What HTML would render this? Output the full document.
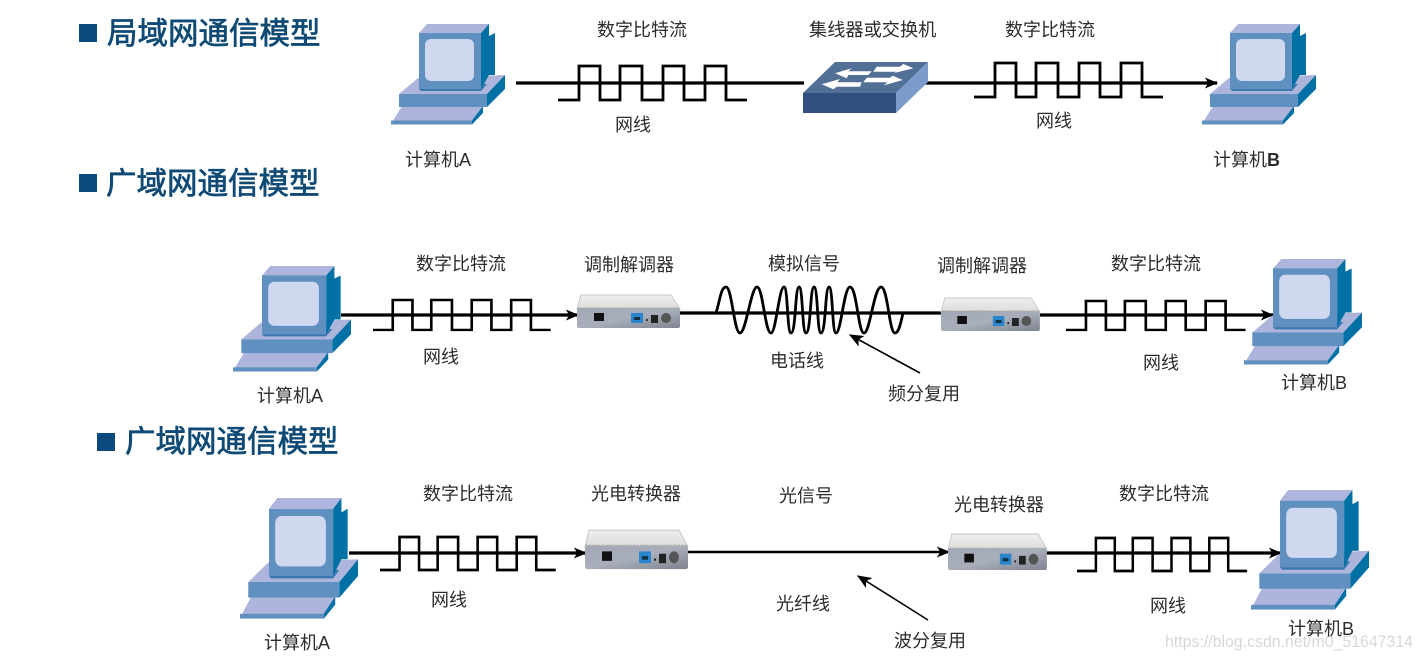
<!DOCTYPE html>
<html><head><meta charset="utf-8"><style>
html,body{margin:0;padding:0;background:#fff}
svg{display:block}
text{font-family:"Liberation Sans","Noto Sans CJK SC",sans-serif;font-size:18px;fill:#2c2c2c}
.t{font-size:30.5px;font-weight:400;fill:#0f4a75;stroke:#0f4a75;stroke-width:.7px}
.w{fill:none;stroke:#000;stroke-width:2.8}
.l{stroke:#000;stroke-width:3.2;fill:none}
.n{stroke:#000;stroke-width:1.6;fill:none}
</style></head><body>
<svg width="1422" height="659" viewBox="0 0 1422 659" xmlns="http://www.w3.org/2000/svg">
<defs>
<g id="pc">
<polygon points="0,100 11,82 92,82 81,100" fill="#adb5dc"/>
<rect x="0" y="96.500" width="81" height="4" fill="#6090c0"/>
<polygon points="81,100.500 92,89 92,82 81,96.500" fill="#0070a5"/>
<polygon points="8,70 27,54 114,51 96,70" fill="#adb5dc"/>
<rect x="8" y="70" width="88" height="13" fill="#6090c0"/>
<polygon points="96,83 114,65 114,51 96,70" fill="#0070a5"/>
<polygon points="28,9 36,0 98,0 90,9" fill="#adb5dc"/>
<polygon points="28,65 30,67 90,67 96,60 28,60" fill="#3c78b0"/>
<rect x="28" y="9" width="62" height="56" fill="#6090c0"/>
<polygon points="90,9 98,0 98,12 104,9 104,51 98,51 90,65" fill="#0070a5"/>
<rect x="34" y="15" width="49" height="42" rx="6" fill="#d0d8f0"/>
</g>
<linearGradient id="mt" x1="0" y1="0" x2="0" y2="1"><stop offset="0" stop-color="#efefed"/><stop offset="1" stop-color="#dcdcda"/></linearGradient>
<linearGradient id="mf" x1="0" y1="0" x2="1" y2="1"><stop offset="0" stop-color="#a2a7b6"/><stop offset=".5" stop-color="#a9aebb"/><stop offset="1" stop-color="#7e838f"/></linearGradient>
<g id="modem">
<polygon points="0,15 4,1 94,1 103,15" fill="url(#mt)" stroke="#c8c8c6" stroke-width="1"/>
<rect x="0" y="14" width="103" height="20" rx="2" fill="url(#mf)"/>
<line x1="1" y1="14" x2="102" y2="14" stroke="#aaa" stroke-width="1.500" stroke-dasharray="1.500 1.500"/>
<rect x="17" y="19" width="10" height="8" fill="#111"/>
<rect x="54" y="19" width="12" height="10" fill="#2a86cc"/>
<rect x="57" y="23" width="6" height="3" fill="#134"/>
<rect x="74" y="21" width="7" height="8" fill="#222"/>
<circle cx="89" cy="24" r="5" fill="#555"/>
<circle cx="70" cy="26" r="1" fill="#111"/>
</g>
<polyline id="sq" points="0,34 21,34 21,0 42,0 42,34 62,34 62,0 84,0 84,34 105,34 105,0 126,0 126,34 147,34 147,0 168,0 168,34 189,34"/>
<marker id="a" viewBox="0 0 12 10" refX="11" refY="5" markerWidth="16" markerHeight="11" markerUnits="userSpaceOnUse" orient="auto"><path d="M0,0 L12,5 L0,10 L3,5 Z" fill="#000"/></marker>
<marker id="b" viewBox="0 0 12 10" refX="11" refY="5" markerWidth="18" markerHeight="12" markerUnits="userSpaceOnUse" orient="auto"><path d="M0,0 L12,5 L0,10 L3,5 Z" fill="#000"/></marker>
</defs>

<!-- titles -->
<rect x="79" y="24" width="18" height="18" fill="#0b4a7c"/>
<text x="107" y="44" class="t">局域网通信模型</text>
<rect x="79" y="174" width="18" height="18" fill="#0b4a7c"/>
<text x="106" y="194" class="t">广域网通信模型</text>
<rect x="97" y="433" width="18" height="18" fill="#0b4a7c"/>
<text x="125" y="452" class="t">广域网通信模型</text>

<!-- row 1 -->
<line x1="516" y1="83" x2="804" y2="83" class="l"/>
<line x1="925" y1="83" x2="1217" y2="83" class="l" marker-end="url(#a)"/>
<use href="#sq" class="w" transform="translate(558,66)"/>
<use href="#sq" class="w" transform="translate(974,63)"/>
<use href="#pc" transform="translate(391,24)"/>
<use href="#pc" transform="translate(1202,24)"/>
<polygon points="803,93 835,62 928,62 896,93" fill="#527095"/>
<rect x="803" y="93" width="93" height="20" fill="#31507f"/>
<polygon points="896,93 928,62 928,82 896,113" fill="#7b9bcb"/>
<polygon points="835,73.300 851.700,68.300 848.300,71.300 871.700,71.300 868.300,75 848.300,75 846.700,78.300" fill="#fff"/>
<polygon points="913.300,68.300 903.300,64 900,66.700 876.700,66.700 873.300,71.700 896.700,71.700 893.300,73.300" fill="#fff"/>
<polygon points="821.700,84.300 840,79 837.300,82.300 861.700,82.300 860,86.700 836.700,86.700 833.300,89.300" fill="#fff"/>
<polygon points="902.700,80 892.700,75.700 890,77.700 866.700,77.700 863.300,82.300 887.300,82.300 884,85.300" fill="#fff"/>
<text x="597" y="36">数字比特流</text>
<text x="809" y="36" style="font-size:18.2px">集线器或交换机</text>
<text x="1005" y="36">数字比特流</text>
<text x="615" y="131">网线</text>
<text x="1036" y="127">网线</text>
<text x="405" y="166">计算机A</text>
<text x="1213" y="166">计算机<tspan font-weight="700">B</tspan></text>

<!-- row 2 -->
<line x1="341" y1="315" x2="578" y2="315" class="l" marker-end="url(#a)"/>
<line x1="680" y1="313" x2="941" y2="313" class="l"/>
<line x1="1040" y1="315" x2="1273" y2="315" class="l" marker-end="url(#a)"/>
<use href="#sq" class="w" transform="translate(373,300) scale(.94,.88)"/>
<use href="#sq" class="w" transform="translate(1066,301) scale(.95,.85)"/>
<use href="#pc" transform="translate(233,266) scale(1.035,1.05)"/>
<use href="#pc" transform="translate(1244,259) scale(1.035,1.05)"/>
<use href="#modem" transform="translate(577,294)"/>
<use href="#modem" transform="translate(941,297) scale(.96,1)"/>
<path class="w" d="M716,313 C720,300 721,287 726,287 C732,287 734,333 740,333 C746,333 751,287 757,287 C763,287 765,333 771,333 C776,333 779,287 784,287 C788,287 787,333 791,333 C796,333 795,287 799,287 C803,287 802,333 806,333 C811,333 810,287 814,287 C818,287 817,333 821,333 C826,333 825,287 829,287 C833,287 832,333 836,333 C841,333 844,287 850,287 C857,287 858,333 864,333 C870,333 874,287 881,287 C888,287 889,333 895,333 C899,333 901,322 903,313"/>
<text x="416" y="270">数字比特流</text>
<text x="584" y="271">调制解调器</text>
<text x="768" y="270">模拟信号</text>
<text x="937" y="272">调制解调器</text>
<text x="1111" y="270">数字比特流</text>
<text x="423" y="363">网线</text>
<text x="770" y="367">电话线</text>
<text x="1143" y="369">网线</text>
<text x="888" y="400">频分复用</text>
<text x="257" y="402">计算机A</text>
<text x="1281" y="389">计算机B</text>
<line x1="920" y1="373" x2="850" y2="335" class="n" marker-end="url(#b)"/>

<!-- row 3 -->
<line x1="349" y1="553" x2="586" y2="553" class="l" marker-end="url(#a)"/>
<line x1="688" y1="552" x2="949" y2="552" class="l" style="stroke-width:2.6" marker-end="url(#a)"/>
<line x1="1046" y1="553" x2="1281" y2="553" class="l" marker-end="url(#a)"/>
<use href="#sq" class="w" transform="translate(380,537) scale(.93,.97)"/>
<use href="#sq" class="w" transform="translate(1077,538) scale(.9,.97)"/>
<use href="#pc" transform="translate(240,498) scale(1.035,1.2)"/>
<use href="#pc" transform="translate(1251,490) scale(1.035,1.19)"/>
<use href="#modem" transform="translate(585,529) scale(1,1.18)"/>
<use href="#modem" transform="translate(948,533) scale(.96,1.09)"/>
<text x="423" y="500">数字比特流</text>
<text x="591" y="500">光电转换器</text>
<text x="779" y="502">光信号</text>
<text x="954" y="511">光电转换器</text>
<text x="1119" y="500">数字比特流</text>
<text x="431" y="606">网线</text>
<text x="776" y="610">光纤线</text>
<text x="1150" y="612">网线</text>
<text x="894" y="647">波分复用</text>
<text x="264" y="649">计算机A</text>
<text x="1288" y="635">计算机B</text>
<line x1="928" y1="620" x2="858" y2="576" class="n" marker-end="url(#b)"/>

<text x="1165" y="647" textLength="248" lengthAdjust="spacingAndGlyphs" style="font-size:16.6px;fill:#000;fill-opacity:.16">https://blog.csdn.net/m0_51647314</text>
</svg>
</body></html>
